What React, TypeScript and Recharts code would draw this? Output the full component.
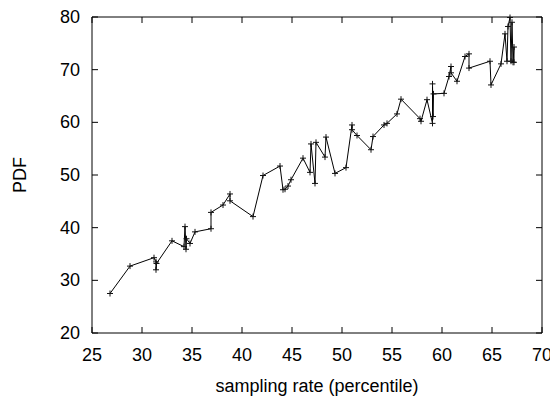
import React from "react";
import { LineChart, Line, XAxis, YAxis, ReferenceLine } from "recharts";

// sampling rate (percentile), in plotted order
const rates = [
  26.8, 28.8, 31.2, 31.4, 31.4, 31.45, 33.0, 34.2, 34.3, 34.4, 34.45, 34.8,
  35.3, 36.9, 36.9, 38.1, 38.8, 38.8, 41.1, 42.1, 43.8, 44.1, 44.3, 44.6,
  44.9, 46.1, 46.8, 46.9, 47.3, 47.4, 48.3, 48.4, 49.3, 50.4, 51.0, 51.0,
  51.5, 52.9, 53.1, 54.2, 54.5, 55.5, 55.9, 57.8, 57.9, 58.5, 59.05, 59.05,
  59.1, 59.15, 60.2, 60.7, 60.9, 60.9, 61.5, 62.3, 62.7, 62.7, 64.8, 64.9,
  65.9, 66.3, 66.5, 66.6, 66.8, 66.9, 67.0, 67.1, 67.2, 67.2,
];

const pdf = [
  27.5, 32.7, 34.3, 33.5, 32.0, 33.2, 37.5, 36.4, 40.2, 35.9, 37.9, 37.0,
  39.2, 39.8, 42.9, 44.3, 46.4, 45.1, 42.1, 49.9, 51.7, 47.2, 47.3, 47.9,
  49.1, 53.2, 50.5, 55.9, 48.4, 56.2, 53.4, 57.2, 50.3, 51.4, 59.5, 58.6,
  57.5, 54.8, 57.3, 59.5, 59.8, 61.6, 64.4, 60.7, 60.2, 64.3, 59.8, 67.3,
  61.1, 65.4, 65.5, 68.7, 70.6, 69.4, 67.8, 72.5, 73.0, 70.3, 71.6, 67.1,
  71.1, 76.8, 71.6, 78.2, 79.9, 71.6, 79.0, 71.4, 74.3, 71.4,
];

const xTicks = [25, 30, 35, 40, 45, 50, 55, 60, 65, 70];
const yTicks = [20, 30, 40, 50, 60, 70, 80];

const data = rates.map((r, i) => ({ rate: r, pdf: pdf[i] }));

const FONT = "'Liberation Sans', Arial, sans-serif";
const PLOT_W = 450;
const PLOT_H = 316;

const PlusDot = (props: any) => {
  const { cx, cy } = props;
  if (cx == null || cy == null) return null;
  return (
    <g stroke="#111" strokeWidth={1}>
      <line x1={cx - 3} y1={cy} x2={cx + 3} y2={cy} />
      <line x1={cx} y1={cy - 3} x2={cx} y2={cy + 3} />
    </g>
  );
};

const XTick = (props: any) => {
  const { x, y, payload } = props;
  return (
    <g>
      <line x1={x} y1={y} x2={x} y2={y - 6} stroke="#000" />
      <line x1={x} y1={y - PLOT_H} x2={x} y2={y - PLOT_H + 6} stroke="#000" />
      <text x={x} y={y + 28} textAnchor="middle" fontSize={18} fontFamily={FONT} fill="#000">
        {payload.value}
      </text>
    </g>
  );
};

const YTick = (props: any) => {
  const { x, y, payload } = props;
  return (
    <g>
      <line x1={x} y1={y} x2={x + 6} y2={y} stroke="#000" />
      <line x1={x + PLOT_W} y1={y} x2={x + PLOT_W - 6} y2={y} stroke="#000" />
      <text x={x - 12} y={y + 6} textAnchor="end" fontSize={18} fontFamily={FONT} fill="#000">
        {payload.value}
      </text>
    </g>
  );
};

const XLabel = (props: any) => {
  const { viewBox } = props;
  const cx = viewBox.x + viewBox.width / 2;
  return (
    <text x={cx} y={viewBox.y + 59} textAnchor="middle" fontSize={18} fontFamily={FONT} fill="#000">
      sampling rate (percentile)
    </text>
  );
};

const YLabel = (props: any) => {
  const { viewBox } = props;
  const cy = viewBox.y + viewBox.height / 2;
  return (
    <text
      x={18}
      y={cy}
      transform={`rotate(-90, 18, ${cy})`}
      textAnchor="middle"
      fontSize={18}
      fontFamily={FONT}
      fill="#000"
    >
      PDF
    </text>
  );
};

export default function App() {
  return (
    <div style={{ width: 550, height: 388 }}>
      <LineChart
        width={550}
        height={388}
        data={data}
        margin={{ top: 9, right: 16, left: 0, bottom: 0 }}
      >
        <XAxis
          dataKey="rate"
          type="number"
          domain={[25, 70]}
          ticks={xTicks}
          interval={0}
          height={63}
          tickSize={0}
          tickMargin={0}
          tickLine={false}
          axisLine={{ stroke: "#000" }}
          tick={<XTick />}
          label={<XLabel />}
        />
        <YAxis
          dataKey="pdf"
          type="number"
          domain={[20, 80]}
          ticks={yTicks}
          interval={0}
          width={84}
          tickSize={0}
          tickMargin={0}
          tickLine={false}
          axisLine={{ stroke: "#000" }}
          tick={<YTick />}
          label={<YLabel />}
        />
        <ReferenceLine y={80} stroke="#000" />
        <ReferenceLine x={70} stroke="#000" />
        <Line
          type="linear"
          dataKey="pdf"
          stroke="#000"
          strokeWidth={1}
          dot={<PlusDot />}
          activeDot={false}
          isAnimationActive={false}
        />
      </LineChart>
    </div>
  );
}
